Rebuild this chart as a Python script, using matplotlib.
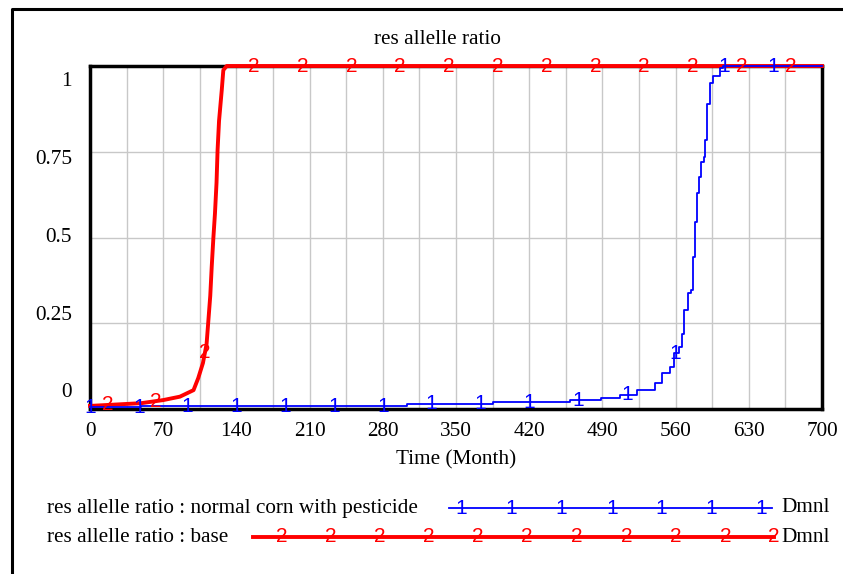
import numpy as np
import matplotlib.pyplot as plt
from matplotlib.lines import Line2D

plt.rcParams['font.family'] = ['Liberation Serif', 'DejaVu Serif']

# res allelle ratio, run "normal corn with pesticide" (step output)
blue_t = [0, 49, 303, 385, 430, 459, 489, 507, 523, 540, 547, 555, 558, 563, 566,
          568, 572, 575, 577, 578.5, 580, 582.7, 584, 587, 588, 589.7, 593, 596,
          602.5, 605.6, 700]
blue_y = [0.005, 0.008, 0.015, 0.02, 0.021, 0.026, 0.033, 0.041, 0.055, 0.075,
          0.104, 0.123, 0.162, 0.18, 0.22, 0.29, 0.337, 0.347, 0.444, 0.546, 0.629,
          0.677, 0.72, 0.736, 0.784, 0.89, 0.95, 0.97, 0.995, 1.0, 1.0]

# res allelle ratio, run "base"
red_t = [0, 49, 70, 86, 99, 103.5, 108, 111.5, 113, 115, 116.4, 118, 119.5, 121,
         122, 123.4, 126, 127.5, 130.7, 700]
red_y = [0.009, 0.017, 0.026, 0.036, 0.055, 0.09, 0.134, 0.19, 0.25, 0.33, 0.415,
         0.50, 0.57, 0.66, 0.755, 0.84, 0.93, 0.988, 1.0, 1.0]

x_ticks = [0, 70, 140, 210, 280, 350, 420, 490, 560, 630, 700]
y_ticks = [0, 0.25, 0.5, 0.75, 1]
y_ticklabels = ['0', '0.25', '0.5', '0.75', '1']
legend_names = ['res allelle ratio : normal corn with pesticide', 'res allelle ratio : base']
units = 'Dmnl'

BLUE = '#0000ff'
RED = '#ff0000'
W, H = 843, 574
FS = 15.3

fig = plt.figure(figsize=(W / 100, H / 100), dpi=100)
ax = fig.add_axes([90 / W, 1 - 409 / H, 732 / W, 343 / H])

ax.set_xlim(0, 700)
ax.set_ylim(0, 1)
ax.set_xticks(x_ticks)
ax.set_xticks(np.arange(35, 700, 70), minor=True)
ax.set_yticks(y_ticks)
ax.set_yticklabels([])
ax.grid(True, which='both', color='#c8c8c8', lw=1)
ax.set_axisbelow(True)
ax.tick_params(which='both', length=0, labelsize=FS)
ax.tick_params(axis='x', pad=9)
for s in ax.spines.values():
    s.set_linewidth(2.5)
    s.set_zorder(2)

# y labels are spread evenly between just below the top and just above the bottom
ytr = ax.get_yaxis_transform()
label_pos = np.linspace(0.047, 0.955, len(y_ticklabels))
for lab, yp in zip(y_ticklabels, label_pos):
    ax.text(-18 / 732, yp, lab, transform=ytr, fontsize=FS, ha='right', va='center')

ax.plot(red_t, red_y, color=RED, lw=2.8, clip_on=False, zorder=3)
ax.plot(blue_t, blue_y, color=BLUE, lw=1.3, drawstyle='steps-post', clip_on=False, zorder=4)


def step_value(ts, ys, t):
    i = np.searchsorted(ts, t, side='right') - 1
    return ys[max(i, 0)]


MK = 15
# numbered run markers along each line
gap = 700 / 15
for t in np.arange(0, 699, gap):
    ax.text(t, step_value(blue_t, blue_y, t), '1', color=BLUE, fontsize=MK,
            family=['Liberation Sans'], ha='center', va='center', zorder=5, clip_on=False)
for t in np.arange(16.5, 699, gap):
    ax.text(t, np.interp(t, red_t, red_y), '2', color=RED, fontsize=MK,
            family=['Liberation Sans'], ha='center', va='center', zorder=5, clip_on=False)

fig.text(437 / W, 1 - 39 / H, 'res allelle ratio', fontsize=FS, ha='center', va='center')
fig.text(456 / W, 1 - 460 / H, 'Time (Month)', fontsize=FS, ha='center', va='center')

# outer frame (left and top edges)
fig.add_artist(Line2D([12 / W, 12 / W, 1], [0, 1 - 9 / H, 1 - 9 / H],
                      transform=fig.transFigure, color='black', lw=2.2))

# legend rows
rows = [
    (508, 449, 772, BLUE, 1.3, '1', [461, 511, 561, 612, 661, 711, 761]),
    (537, 253, 774, RED, 2.8, '2', [282, 331, 380, 429, 478, 527, 577, 627, 676, 726, 774]),
]
for name, (yy, x0, x1, col, lw, mk, mxs) in zip(legend_names, rows):
    fy = 1 - yy / H
    fig.text(47 / W, fy, name, fontsize=FS, ha='left', va='center')
    fig.add_artist(Line2D([x0 / W, x1 / W], [fy, fy], transform=fig.transFigure,
                          color=col, lw=lw))
    for mx in mxs:
        fig.text(mx / W, fy, mk, color=col, fontsize=MK, family=['Liberation Sans'],
                 ha='center', va='center')
    fig.text(781 / W, fy, units, fontsize=FS, ha='left', va='center')

fig.savefig('out.png', dpi=100)
